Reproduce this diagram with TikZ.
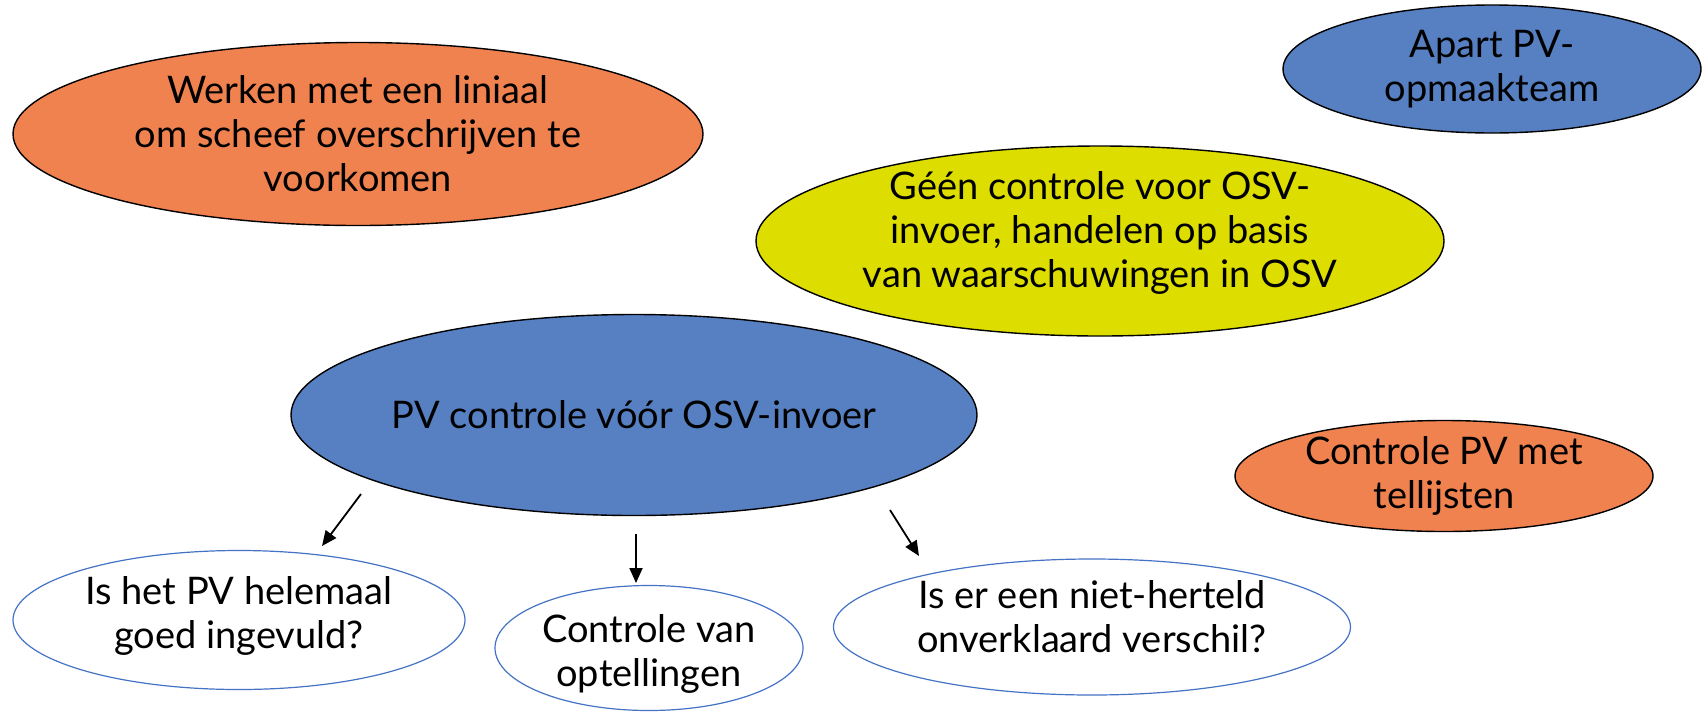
\documentclass[tikz,border=0pt]{standalone}
\usepackage{fontspec}
\setmainfont{Lato}
\usetikzlibrary{shapes.geometric,arrows.meta}
\definecolor{orng}{RGB}{240,130,80}
\definecolor{blu}{RGB}{86,128,193}
\definecolor{yel}{RGB}{221,221,0}
\definecolor{edgeblu}{RGB}{68,114,196}
\newcommand{\liftlines}[2]{\raisebox{#1}[\height][\depth]{\begin{tabular}{@{}c@{}}#2\end{tabular}}}
\begin{document}
\begin{tikzpicture}[x=1pt,y=-1pt,
  bubble/.style={ellipse, draw=black, line width=1.4pt, inner sep=-30pt, align=center,
     font=\fontsize{38}{44}\selectfont},
  leaf/.style={ellipse, draw=edgeblu, line width=1.2pt, fill=white, inner sep=-30pt, align=center,
     font=\fontsize{38}{44}\selectfont},
  arr/.style={draw=black, line width=1.8pt, -{Triangle[length=15pt,width=13pt]}}]
\useasboundingbox (0,0) rectangle (1702,721);
\node[bubble, fill=orng, minimum width=690pt, minimum height=183pt] (liniaal) at (358,134)
  {Werken met een liniaal\\om scheef overschrijven te\\voorkomen};
\node[bubble, fill=blu, minimum width=418pt, minimum height=128pt] (team) at (1492,69)
  {Apart PV-\\opmaakteam};
\node[bubble, fill=yel, minimum width=688pt, minimum height=190pt] (geen) at (1100,241)
  {\liftlines{6pt}{Géén controle voor OSV-\\invoer, handelen op basis\\van waarschuwingen in OSV}};
\node[bubble, fill=blu, minimum width=686pt, minimum height=201pt] (pvc) at (634,415)
  {PV controle vóór OSV-invoer};
\node[bubble, fill=orng, minimum width=418pt, minimum height=111pt] (tel) at (1444,476)
  {Controle PV met\\tellijsten};
\node[leaf, minimum width=452pt, minimum height=139pt] (heel) at (239,620)
  {\liftlines{2pt}{Is het PV helemaal\\goed ingevuld?}};
\node[leaf, minimum width=308pt, minimum height=125pt] (optel) at (649,648)
  {\liftlines{-8pt}{Controle van\\optellingen}};
\node[leaf, minimum width=517pt, minimum height=136pt] (verschil) at (1092,627)
  {\liftlines{5pt}{Is er een niet-herteld\\onverklaard verschil?}};
\coordinate (a1) at (361,494); \coordinate (a2) at (322,546);
\coordinate (b1) at (636,534); \coordinate (b2) at (636,583);
\coordinate (c1) at (890,510); \coordinate (c2) at (919,556);
\draw[arr] (a1) -- (a2);
\draw[arr] (b1) -- (b2);
\draw[arr] (c1) -- (c2);
\end{tikzpicture}
\end{document}
